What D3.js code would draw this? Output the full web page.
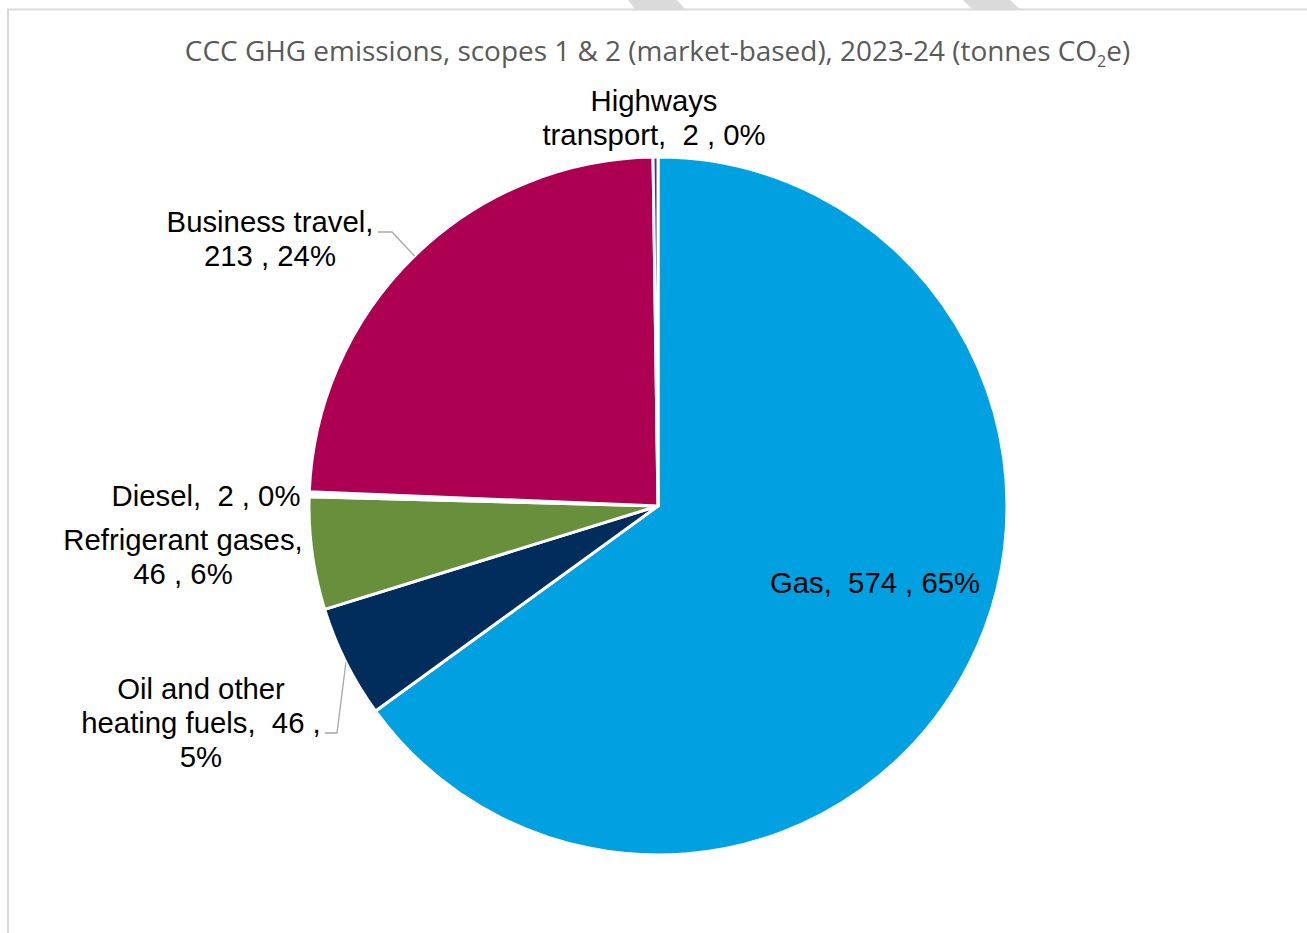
<!DOCTYPE html>
<html>
<head>
<meta charset="utf-8">
<script src="https://cdn.jsdelivr.net/npm/d3@7"></script>
<style>
  html, body { margin: 0; padding: 0; background: #ffffff; }
  svg { display: block; }
</style>
</head>
<body>
<svg id="chart" width="1307" height="933"></svg>
<script>
// ---- data ----
const categories = ["Gas", "Oil and other heating fuels", "Refrigerant gases", "Diesel", "Business travel", "Highways transport"];
const values = [574, 46, 46, 2, 213, 2];
const percentLabels = ["65%", "5%", "6%", "0%", "24%", "0%"];
const colors = ["#00a0e1", "#002d5c", "#68903c", "#ffffff", "#ae0052", "#5a2a7a"];
const labelLines = [
  ["Gas,  574 , 65%"],
  ["Oil and other", "heating fuels,  46 ,", "5%"],
  ["Refrigerant gases,", "46 , 6%"],
  ["Diesel,  2 , 0%"],
  ["Business travel,", "213 , 24%"],
  ["Highways", "transport,  2 , 0%"]
];

// ---- layout ----
const W = 1307, H = 933;
const cx = 658, cy = 506, R = 349;
const svg = d3.select("#chart");

// faint watermark stripes at very top
const stripes = [[628, 677, 685, 635], [963, 1010, 1020, 972]];
stripes.forEach(s => {
  svg.append("polygon")
    .attr("points", `${s[0]},0 ${s[1]},0 ${s[2]},9 ${s[3]},9`)
    .attr("fill", "#dadada");
});

// chart frame
svg.append("rect")
  .attr("x", 8).attr("y", 9.5).attr("width", W + 10).attr("height", H + 10)
  .attr("fill", "#ffffff").attr("stroke", "#d9d9d9").attr("stroke-width", 2);

// title
const title = svg.append("text")
  .attr("x", 657.5).attr("y", 61)
  .attr("text-anchor", "middle")
  .attr("font-family", "'Open Sans', 'Noto Sans', sans-serif")
  .attr("font-size", 25)
  .attr("fill", "#595959");
title.append("tspan").text("CCC GHG emissions, scopes 1 & 2 (market-based), 2023-24 (tonnes CO");
title.append("tspan").attr("font-size", 16).attr("dy", 6).text("2");
title.append("tspan").attr("dy", -6).text("e)");
const tw = title.node().getComputedTextLength();
const targetW = 947;
title.attr("font-size", 25 * targetW / tw);

// pie
const pie = d3.pie().sort(null).value(d => d).startAngle(0).endAngle(2 * Math.PI);
const arcs = pie(values);
const arc = d3.arc().innerRadius(0).outerRadius(R);

const g = svg.append("g").attr("transform", `translate(${cx},${cy})`);
g.selectAll("path.slice")
  .data(arcs)
  .join("path")
  .attr("class", "slice")
  .attr("d", arc)
  .attr("fill", (d, i) => colors[i])
  .attr("stroke", "#ffffff")
  .attr("stroke-width", 3)
  .attr("stroke-linejoin", "round");

// labels: offsets relative to pie centre (centre of text block, first baseline)
const labelOffsets = [
  [217, 87],    // Gas
  [-457, 193],  // Oil
  [-475, 44],   // Refrigerant
  [-452, 0],    // Diesel
  [-388, -274], // Business
  [-4, -395]    // Highways
];
const lineH = 34;
const labelG = g.append("g")
  .attr("font-family", "'Liberation Sans', Arial, sans-serif")
  .attr("font-size", 29.3)
  .attr("fill", "#000000");
labelLines.forEach((lines, i) => {
  const t = labelG.append("text")
    .attr("text-anchor", "middle")
    .attr("x", labelOffsets[i][0]).attr("y", labelOffsets[i][1])
    .attr("xml:space", "preserve")
    .style("white-space", "pre");
  lines.forEach((ln, j) => {
    t.append("tspan")
      .attr("x", labelOffsets[i][0])
      .attr("dy", j === 0 ? 0 : lineH)
      .text(ln);
  });
});

// leader lines (anchored on the slice outer arc)
function rimPoint(a, r) { return [Math.sin(a) * r, -Math.cos(a) * r]; }
const leader = d3.line();
// Business travel
{
  const a = (arcs[4].startAngle + arcs[4].endAngle) / 2;
  const p = rimPoint(a, R);
  g.append("path")
    .attr("d", leader([[-280, -274], [-266, -274], [p[0], p[1]]]))
    .attr("fill", "none").attr("stroke", "#a6a6a6").attr("stroke-width", 1.3);
}
// Oil
{
  const a = (arcs[1].startAngle + arcs[1].endAngle) / 2;
  const p = rimPoint(a, R);
  g.append("path")
    .attr("d", leader([[-333, 227], [-321, 227], [p[0], p[1]]]))
    .attr("fill", "none").attr("stroke", "#a6a6a6").attr("stroke-width", 1.3);
}
</script>
</body>
</html>
